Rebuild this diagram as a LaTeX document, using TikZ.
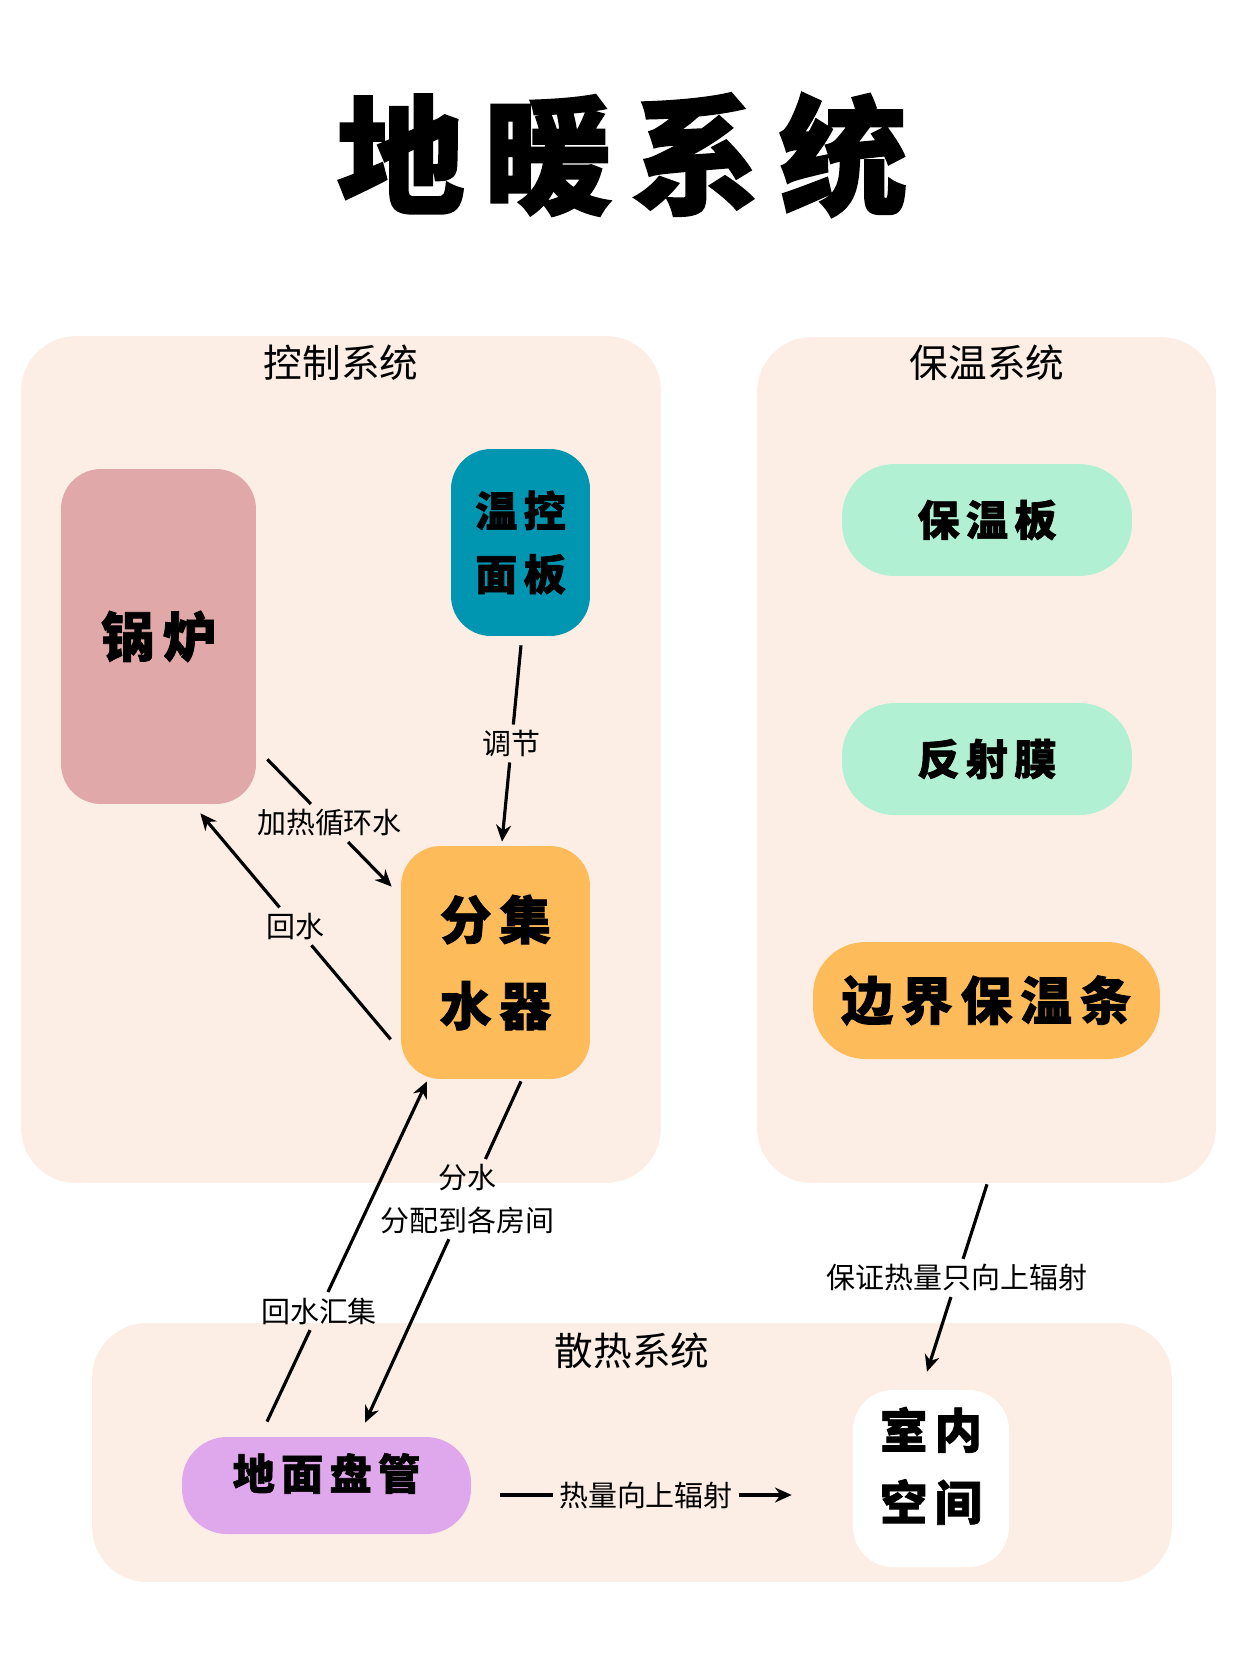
\documentclass[tikz,border=0pt]{standalone}
\usepackage{fontspec}
\newfontfamily\cjk{Noto Sans CJK SC}
\newfontfamily\cjkheavy[FakeBold=1.5,LetterSpace=15]{Noto Sans CJK SC}
\usetikzlibrary{arrows.meta,positioning,calc}

\definecolor{panelbg}{RGB}{252,238,228}
\definecolor{boilerred}{RGB}{224,168,168}
\definecolor{ctrlteal}{RGB}{0,150,178}
\definecolor{mforange}{RGB}{253,187,89}
\definecolor{mintgreen}{RGB}{178,240,212}
\definecolor{coilpurple}{RGB}{224,168,236}

\tikzset{
  panel/.style={fill=panelbg, rounded corners=1.1cm, inner sep=0pt},
  paneltitle/.style={font=\cjk\fontsize{22}{26}\selectfont},
  part/.style={rounded corners=0.8cm, inner sep=0pt, align=center, font=\cjkheavy\bfseries},
  pipe/.style={line width=1.8pt},
  flow/.style={line width=1.8pt, -{Stealth[length=9.5pt,width=8.5pt]}},
  elabel/.style={font=\cjk\fontsize{16.5}{24}\selectfont, inner sep=3pt, align=center}
}

\begin{document}
\begin{tikzpicture}[x=0.02cm, y=-0.02cm]
\fill[white] (0,0) rectangle (1242,1660);

% Title
\node[font=\cjkheavy\bfseries\fontsize{73}{80}\selectfont] (title) at (622,155) {地暖系统};

% Panels
\node[panel, minimum width=12.8cm, minimum height=16.94cm] (kz) at (341,759.5) {};
\node[paneltitle] (kzt) at (341,363) {控制系统};
\node[panel, minimum width=9.18cm, minimum height=16.92cm] (bw) at (986.5,760) {};
\node[paneltitle] (bwt) at (987,363) {保温系统};
\node[panel, minimum width=21.6cm, minimum height=5.18cm] (sr) at (632,1452.5) {};
\node[paneltitle] (srt) at (632,1351) {散热系统};

% Control system
\node[part, fill=boilerred, minimum width=3.9cm, minimum height=6.7cm,
  font=\cjkheavy\bfseries\fontsize{30.5}{34}\selectfont] (gl) at (158.5,636.5) {锅炉};
\node[part, fill=ctrlteal, minimum width=2.78cm, minimum height=3.74cm,
  font=\cjkheavy\bfseries\fontsize{24}{36}\selectfont] (wk) at (520.5,542.5) {温控\\面板};
\node[part, fill=mforange, minimum width=3.78cm, minimum height=4.66cm,
  font=\cjkheavy\bfseries\fontsize{29.5}{49}\selectfont] (fjs) at (495.5,962.5) {分集\\水器};

% Insulation system
\node[part, fill=mintgreen, rounded corners=1.05cm, minimum width=5.8cm, minimum height=2.24cm,
  font=\cjkheavy\bfseries\fontsize{24}{28}\selectfont] (bwb) at (987,520) {保温板};
\node[part, fill=mintgreen, rounded corners=1.05cm, minimum width=5.8cm, minimum height=2.24cm,
  font=\cjkheavy\bfseries\fontsize{24}{28}\selectfont] (fsm) at (987,759) {反射膜};
\node[part, fill=mforange, rounded corners=1.05cm, minimum width=6.94cm, minimum height=2.34cm,
  font=\cjkheavy\bfseries\fontsize{29.5}{32}\selectfont] (bjt) at (986.5,1000.5) {边界保温条};

% Heat dissipation
\node[part, fill=coilpurple, rounded corners=0.9cm, minimum width=5.78cm, minimum height=1.94cm,
  text depth=16pt, font=\cjkheavy\bfseries\fontsize{24}{28}\selectfont] (dm) at (326.5,1485.5) {地面盘管};
\node[part, fill=white, minimum width=3.12cm, minimum height=3.54cm,
  text depth=17pt, font=\cjkheavy\bfseries\fontsize{27}{41}\selectfont] (sn) at (931,1478.5) {室内\\空间};

% Connectors
\path ($(gl.south east)+(11,-45)$) coordinate (h1) -- node[elabel] (lh) {加热循环水} ($(fjs.north west)+(-9,41)$) coordinate (h2);
\draw[pipe] (h1) -- (lh);
\draw[flow] (lh) -- (h2);

\path ($(fjs.south west)+(-10,-40)$) coordinate (r1) -- node[elabel] (lr) {回水} ($(gl.south east)+(-56,9)$) coordinate (r2);
\draw[pipe] (r1) -- (lr);
\draw[flow] (lr) -- (r2);

\path ($(wk.south)+(0.5,9)$) coordinate (t1) -- node[elabel] (lt) {调节} ($(fjs.north)+(6.5,-4)$) coordinate (t2);
\draw[pipe] (t1) -- (lt);
\draw[flow] (lt) -- (t2);

\path ($(fjs.south)+(25.5,2)$) coordinate (d1) -- node[elabel, pos=0.345] (ld) {分水\\分配到各房间} ($(dm.north)+(38.5,-14)$) coordinate (d2);
\draw[pipe] (d1) -- (ld);
\draw[flow] (ld) -- (d2);

\path ($(dm.north)+(-59.5,-15)$) coordinate (c1) -- node[elabel, pos=0.325] (lc) {回水汇集} ($(fjs.south)+(-68.5,2)$) coordinate (c2);
\draw[pipe] (c1) -- (lc);
\draw[flow] (lc) -- (c2);

\path ($(bw.south)+(0.5,1)$) coordinate (b1) -- node[elabel] (lb) {保证热量只向上辐射} ($(sn.north)+(-4,-18)$) coordinate (b2);
\draw[pipe] (b1) -- (lb);
\draw[flow] (lb) -- (b2);

\path ($(dm.east)+(29,9.5)$) coordinate (s1) -- node[elabel] (ls) {热量向上辐射} ($(sn.west)+(-61,16.5)$) coordinate (s2);
\draw[pipe] (s1) -- (ls);
\draw[flow] (ls) -- (s2);

\end{tikzpicture}
\end{document}
